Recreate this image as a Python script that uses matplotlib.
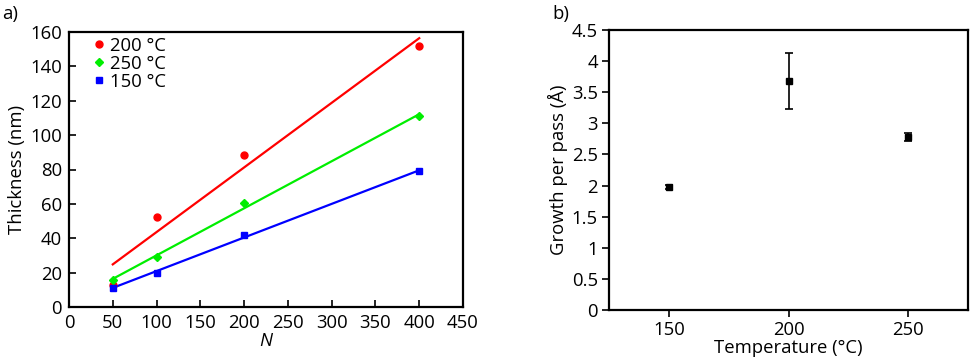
import numpy as np
import matplotlib
matplotlib.use("Agg")
import matplotlib.pyplot as plt

plt.rcParams['font.family'] = ['Open Sans', 'DejaVu Sans']

# Panel a data
N = [50, 100, 200, 400]
t200 = [13, 52.5, 88.5, 152]
t250 = [15.5, 29, 60.5, 111]
t150 = [11, 20, 42, 79]

# Panel b data
temps = [150, 200, 250]
gpp = [1.98, 3.68, 2.78]
gpp_err = [0.03, 0.45, 0.06]

fig = plt.figure(figsize=(9.8, 3.63), dpi=100)
W, H = 980, 363
axa = fig.add_axes([69 / W, 1 - 307 / H, (463 - 69) / W, (307 - 32) / H])
axb = fig.add_axes([609 / W, 1 - 310 / H, (968 - 609) / W, (310 - 30) / H])

fs = 13.3
series = [(t200, 'red', 'o', '200 °C'), (t250, '#00ee00', 'D', '250 °C'), (t150, 'blue', 's', '150 °C')]
xs = np.array(N, dtype=float)
for ys, c, m, lab in series:
    p = np.polyfit(xs, ys, 1)
    axa.plot([xs[0], xs[-1]], np.polyval(p, [xs[0], xs[-1]]), color=c, lw=1.6, zorder=2)
for ys, c, m, lab in series:
    ms = 5 if m != 'D' else 4.5
    axa.plot(N, ys, linestyle='none', marker=m, color=c, markersize=ms, label=lab, zorder=3)

axa.set_xlim(0, 450)
axa.set_ylim(0, 160)
axa.set_xticks(np.arange(0, 451, 50))
axa.set_yticks(np.arange(0, 161, 20))
axa.tick_params(direction='in', length=5, width=1.2, labelsize=fs, pad=5)
axa.set_xlabel('N', fontsize=fs, style='italic', labelpad=0)
axa.set_ylabel('Thickness (nm)', fontsize=fs, labelpad=3)
leg = axa.legend(loc='upper left', frameon=False, fontsize=fs, handletextpad=0.05,
                 handlelength=1.0, labelspacing=0.0, borderaxespad=0.0,
                 bbox_to_anchor=(0.035, 1.01))
for s in axa.spines.values():
    s.set_linewidth(1.6)

axb.errorbar(temps, gpp, yerr=gpp_err, fmt='s', color='black', markersize=5,
             capsize=3, elinewidth=1.2, capthick=1.2)
axb.set_xlim(125, 275)
axb.set_ylim(0, 4.5)
axb.set_xticks([150, 200, 250])
axb.set_yticks(np.arange(0, 4.51, 0.5))
axb.set_yticklabels(['0', '0.5', '1', '1.5', '2', '2.5', '3', '3.5', '4', '4.5'])
axb.tick_params(direction='out', length=5, width=1.2, labelsize=fs, pad=3)
axb.set_xlabel('Temperature (°C)', fontsize=fs, labelpad=0)
axb.set_ylabel('Growth per pass (Å)', fontsize=fs, labelpad=3)
for s in axb.spines.values():
    s.set_linewidth(1.6)

fig.text(2 / W, 1 - 14 / H, 'a)', fontsize=fs, va='center', ha='left')
fig.text(552 / W, 1 - 14 / H, 'b)', fontsize=fs, va='center', ha='left')

fig.savefig('out.png', dpi=100)
